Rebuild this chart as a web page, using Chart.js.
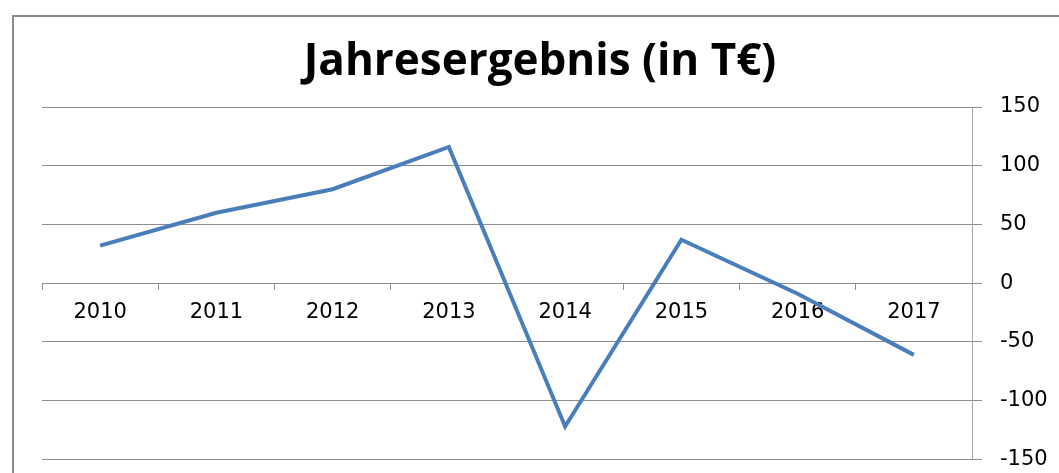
<!DOCTYPE html>
<html><head><meta charset="utf-8">
<script src="https://cdn.jsdelivr.net/npm/chart.js@4"></script>
<style>
html,body{margin:0;padding:0;background:#fff;overflow:hidden;}
#frame{position:absolute;left:12px;top:15px;width:1100px;height:500px;border:2px solid #8a8a8a;}
#c{position:absolute;left:0;top:0;}
</style></head>
<body>
<div id="frame"></div>
<canvas id="c" width="1059" height="490"></canvas>
<script>
const categories = ['2010','2011','2012','2013','2014','2015','2016','2017'];
const values = [32, 60, 80, 116, -122, 37, -9, -61];
const yTicks = [-150, -100, -50, 0, 50, 100, 150];
const title = 'Jahresergebnis (in T€)';

const titlePlugin = {
  id: 'customTitle',
  afterDraw(chart) {
    const ctx = chart.ctx;
    ctx.save();
    ctx.font = 'bold 44px "Open Sans"';
    ctx.fillStyle = '#000';
    ctx.textAlign = 'center';
    ctx.textBaseline = 'middle';
    ctx.fillText(title, 540, 62);
    ctx.restore();
  }
};

new Chart(document.getElementById('c'), {
  type: 'line',
  data: {
    labels: categories,
    datasets: [{
      data: values,
      borderColor: '#4a7ebb',
      borderWidth: 4,
      pointRadius: 0,
      tension: 0,
      fill: false
    }]
  },
  plugins: [titlePlugin],
  options: {
    responsive: false,
    maintainAspectRatio: false,
    animation: false,
    layout: { padding: { left: 42, right: 0, top: 107, bottom: 14 } },
    plugins: {
      legend: { display: false },
      tooltip: { enabled: false },
      title: { display: false }
    },
    scales: {
      x: {
        type: 'category',
        position: { y: 0 },
        offset: true,
        afterFit: (s) => { s.height = 0; },
        grid: { display: true, offset: true, drawOnChartArea: false, drawTicks: true, tickLength: 6, color: '#8c8c8c' },
        border: { display: true, color: '#8c8c8c', width: 1 },
        ticks: { color: '#000', font: { family: 'DejaVu Sans', size: 21 }, padding: 11, maxRotation: 0 }
      },
      y: {
        position: 'right',
        min: -150, max: 150,
        afterBuildTicks: (s) => { s.ticks = yTicks.map(v => ({ value: v })); },
        afterFit: (s) => { s.width = 87; },
        grid: { color: '#8c8c8c', tickLength: 10, drawTicks: true },
        border: { display: true, color: '#a6a6a6', width: 1 },
        ticks: { color: '#000', font: { family: 'DejaVu Sans', size: 21 }, padding: 18, crossAlign: 'near' }
      }
    }
  }
});
</script>
</body></html>
